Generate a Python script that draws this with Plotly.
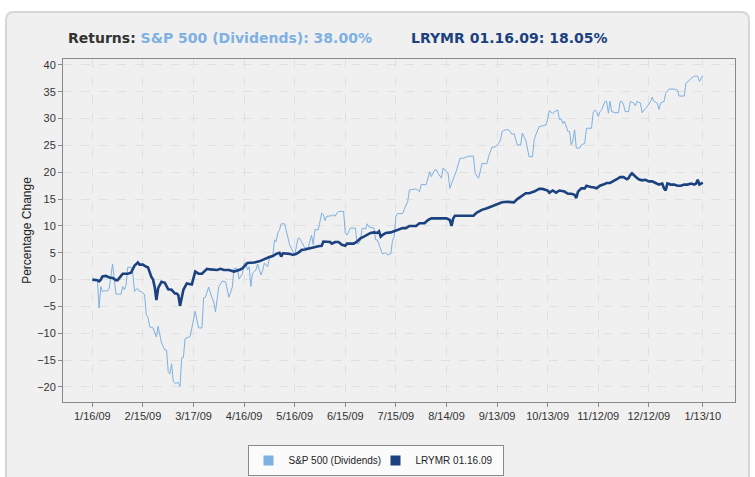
import pandas as pd
import plotly.graph_objects as go

START = pd.Timestamp("2009-01-16")

# S&P 500 (Dividends) - day offset from 1/16/09 and percentage change
sp_day = [0, 3, 4, 5, 6, 7, 9, 10, 12, 13, 14, 17, 18, 19, 20, 21, 23, 24, 25, 26,
          27, 28, 29, 31, 32, 33, 34, 36, 38, 39, 40, 41, 43, 44, 45, 46, 47, 48, 49, 51,
          52, 53, 54, 55, 58, 59, 61, 62, 63, 65, 66, 67, 69, 70, 72, 73, 75, 77, 79, 81,
          83, 84, 86, 87, 89, 90, 91, 92, 93, 94, 95, 97, 98, 99, 100, 101, 102, 104, 105, 107,
          108, 109, 110, 111, 112, 114, 116, 117, 119, 120, 122, 123, 124, 126, 128, 130, 131, 132, 134, 136,
          137, 138, 139, 142, 143, 144, 145, 146, 149, 150, 151, 153, 156, 157, 158, 159, 160, 162, 163, 164,
          167, 168, 169, 171, 172, 174, 175, 177, 178, 179, 180, 181, 184, 186, 187, 188, 192, 194, 195, 198,
          199, 200, 201, 203, 204, 205, 207, 208, 210, 211, 212, 214, 216, 218, 220, 223, 226, 227, 229, 230,
          231, 234, 235, 237, 239, 241, 242, 243, 245, 247, 249, 250, 252, 254, 255, 256, 257, 259, 261, 262,
          263, 265, 267, 269, 270, 271, 273, 274, 276, 277, 278, 279, 280, 282, 283, 284, 285, 286, 287, 289,
          290, 292, 293, 296, 297, 298, 299, 300, 301, 302, 304, 305, 306, 307, 308, 310, 312, 313, 314, 315,
          316, 318, 319, 321, 322, 323, 325, 326, 328, 329, 331, 332, 333, 335, 336, 337, 339, 340, 342, 345,
          347, 348, 351, 352, 354, 355, 357, 359, 360, 362]
sp_val = [0.0, 0.0, -5.3, -1.3, -2.2, -2.1, -2.1, -1.6, 2.9, 0.0, -2.7, -2.7, -1.3, -1.9, -1.0, 2.3, 2.3, 1.2, -2.2, -1.8,
          -1.7, -2.2, -2.2, -2.8, -6.6, -7.0, -8.8, -9.0, -10.7, -8.7, -10.0, -11.8, -13.1, -13.1, -17.1, -17.6, -15.7, -19.0, -19.3, -19.2,
          -19.9, -14.6, -14.5, -11.0, -10.6, -9.0, -5.9, -7.5, -9.0, -9.0, -3.4, -3.3, -1.4, -2.5, -4.2, -6.0, -1.3, -0.3, -0.4, -3.3,
          -1.4, 2.1, 2.1, 0.1, 1.1, 3.1, 3.1, 1.8, 2.4, -1.3, 1.2, 1.8, 2.9, 1.8, 0.9, 1.7, 3.1, 2.4, 4.0, 4.3,
          7.4, 7.1, 8.7, 9.3, 10.4, 10.4, 7.9, 6.5, 5.2, 4.6, 7.7, 7.7, 7.1, 5.9, 5.9, 8.3, 6.5, 9.3, 9.3, 12.4,
          12.1, 11.0, 11.8, 11.9, 12.1, 11.8, 12.4, 12.7, 12.7, 8.7, 8.3, 9.6, 9.6, 6.7, 6.7, 7.4, 9.6, 9.4, 10.4, 9.8,
          9.6, 7.4, 7.4, 5.9, 4.8, 5.0, 4.6, 4.8, 7.3, 8.0, 11.8, 12.3, 12.3, 13.9, 14.5, 16.7, 16.9, 16.4, 17.7, 17.7,
          18.9, 20.1, 19.2, 20.4, 20.5, 19.8, 18.9, 20.8, 20.1, 19.8, 17.0, 18.6, 20.4, 22.6, 22.6, 23.0, 23.0, 19.8, 18.9, 20.1,
          21.6, 21.6, 22.9, 24.7, 24.7, 25.4, 26.0, 27.6, 27.9, 27.9, 27.0, 27.3, 25.1, 25.1, 27.3, 26.6, 26.0, 22.9, 22.9, 26.0,
          27.0, 28.5, 28.6, 28.8, 29.9, 31.5, 30.9, 31.3, 31.6, 29.8, 30.0, 29.1, 29.5, 27.6, 27.6, 25.1, 26.0, 27.9, 24.5, 24.5,
          25.1, 25.4, 28.2, 28.2, 31.1, 31.6, 31.3, 30.4, 31.3, 31.6, 33.2, 33.2, 31.0, 33.2, 31.3, 31.1, 31.1, 33.2, 33.2, 32.6,
          31.3, 31.3, 33.2, 32.9, 32.4, 33.2, 32.9, 31.1, 31.9, 32.2, 33.2, 34.0, 33.2, 32.9, 31.7, 32.9, 33.2, 34.7, 35.5, 35.5,
          35.3, 34.2, 34.2, 36.6, 37.1, 37.5, 37.9, 37.9, 36.9, 38.0]

# LRYMR 01.16.09 - day offset and percentage change
lr_day = [0, 3, 4, 5, 6, 8, 10, 12, 14, 15, 17, 18, 21, 22, 23, 25, 27, 28, 30, 32,
          33, 35, 36, 37, 38, 39, 41, 43, 44, 45, 47, 49, 50, 51, 52, 53, 54, 56, 57, 58,
          59, 61, 63, 65, 68, 70, 72, 74, 76, 78, 81, 84, 87, 89, 92, 95, 96, 99, 101, 103,
          105, 107, 109, 111, 112, 113, 115, 117, 119, 121, 123, 124, 126, 129, 131, 134, 136, 137, 139, 141,
          142, 144, 146, 148, 150, 151, 153, 155, 157, 159, 161, 163, 165, 167, 169, 170, 171, 172, 174, 177,
          179, 181, 184, 186, 188, 192, 194, 197, 199, 201, 206, 210, 212, 213, 214, 215, 218, 223, 226, 228,
          231, 234, 237, 240, 243, 246, 248, 250, 252, 254, 257, 259, 262, 265, 267, 270, 271, 273, 275, 277,
          280, 282, 284, 286, 287, 288, 290, 292, 293, 296, 297, 299, 301, 303, 305, 307, 309, 311, 313, 315,
          317, 318, 319, 320, 322, 324, 326, 328, 330, 332, 334, 336, 338, 339, 340, 341, 343, 345, 347, 349,
          351, 353, 355, 357, 358, 359, 360, 362]
lr_val = [0.0, -0.1, -0.3, 0.0, 0.6, 0.7, 0.4, 0.3, -0.1, -0.1, 0.7, 1.1, 1.1, 1.2, 1.3, 2.6, 3.2, 2.8, 2.8, 2.4,
          2.3, 0.5, 0.0, -1.4, -3.8, -1.6, -0.4, -0.6, -1.3, -1.8, -1.9, -2.6, -2.6, -2.9, -4.9, -3.5, -1.9, -0.7, -0.8, -0.8,
          -0.9, 1.5, 1.1, 1.1, 2.0, 1.9, 1.8, 1.8, 2.0, 1.8, 1.8, 1.5, 1.8, 2.1, 3.1, 3.1, 3.2, 3.4, 3.7, 4.0,
          4.2, 4.4, 4.8, 5.0, 4.3, 4.9, 4.9, 4.8, 4.6, 4.8, 5.2, 5.5, 5.6, 5.9, 6.0, 6.2, 6.3, 7.1, 7.0, 7.0,
          6.7, 7.0, 7.0, 6.5, 6.3, 6.7, 6.7, 6.7, 7.1, 7.7, 8.0, 8.3, 8.7, 8.8, 8.7, 9.0, 8.0, 8.3, 8.7, 8.8,
          9.0, 9.3, 9.6, 9.6, 10.0, 10.0, 10.5, 10.5, 11.1, 11.4, 11.4, 11.4, 11.1, 10.0, 11.4, 11.9, 11.9, 11.9, 11.9, 12.5,
          13.0, 13.3, 13.7, 14.1, 14.4, 14.5, 14.5, 14.4, 15.0, 15.5, 16.1, 16.1, 16.4, 16.9, 16.9, 16.6, 16.2, 16.6, 16.2, 16.6,
          16.4, 16.0, 16.0, 15.8, 15.2, 16.4, 17.0, 17.0, 17.5, 17.2, 17.2, 17.0, 17.5, 17.7, 18.0, 18.0, 18.3, 18.7, 19.1, 19.1,
          18.7, 18.9, 19.5, 19.8, 19.2, 18.7, 18.5, 18.6, 18.3, 18.3, 18.0, 17.7, 17.9, 17.0, 16.6, 17.9, 17.7, 17.7, 17.5, 17.5,
          17.7, 17.7, 17.9, 17.7, 17.9, 18.6, 17.7, 18.05]

tick_dates = ["2009-01-16", "2009-02-15", "2009-03-17", "2009-04-16", "2009-05-16", "2009-06-15",
              "2009-07-15", "2009-08-14", "2009-09-13", "2009-10-13", "2009-11-12", "2009-12-12", "2010-01-13"]
tick_labels = ["1/16/09", "2/15/09", "3/17/09", "4/16/09", "5/16/09", "6/15/09", "7/15/09",
               "8/14/09", "9/13/09", "10/13/09", "11/12/09", "12/12/09", "1/13/10"]

sp_name = "S&P 500 (Dividends)"
lr_name = "LRYMR 01.16.09"
sp_return = 38.00
lr_return = 18.05

SP_COLOR = "#7eb0e2"
LR_COLOR = "#1b427f"

sp_x = START + pd.to_timedelta(sp_day, unit="D")
lr_x = START + pd.to_timedelta(lr_day, unit="D")

fig = go.Figure()
fig.add_trace(go.Scatter(x=sp_x, y=sp_val, mode="lines", line=dict(color=SP_COLOR, width=1),
                         showlegend=False, name=sp_name))
fig.add_trace(go.Scatter(x=lr_x, y=lr_val, mode="lines", line=dict(color=LR_COLOR, width=2.6),
                         showlegend=False, name=lr_name))
# legend swatches (squares)
fig.add_trace(go.Scatter(x=[None], y=[None], mode="markers", name=sp_name,
                         marker=dict(symbol="square", size=10, color=SP_COLOR, line=dict(width=0))))
fig.add_trace(go.Scatter(x=[None], y=[None], mode="markers", name=lr_name,
                         marker=dict(symbol="square", size=10, color=LR_COLOR, line=dict(width=0))))

W, H = 755, 477
L, R, T, B = 63, 20, 59, 75
pw, ph = W - L - R, H - T - B

def px(x):
    return (x - L) / pw

def py(y):
    return (H - B - y) / ph

# rounded panel
x0, x1, y0, y1, r = px(6), px(749), py(12), py(490), 8 / pw
ry = 8 / ph
path = (f"M {x0 + r},{y0} L {x1 - r},{y0} Q {x1},{y0} {x1},{y0 - ry} "
        f"L {x1},{y1} L {x0},{y1} L {x0},{y0 - ry} Q {x0},{y0} {x0 + r},{y0} Z")
fig.add_shape(type="path", path=path, xref="paper", yref="paper", layer="below",
              fillcolor="#f0f0f0", line=dict(color="#d6d6d6", width=2))

fig.add_annotation(xref="paper", yref="paper", x=px(66), y=py(38), xanchor="left", yanchor="middle",
                   showarrow=False,
                   text=f"<b><span style='color:#333333'>Returns:</span> {sp_name}: {sp_return:.2f}%</b>",
                   font=dict(family="DejaVu Sans", size=14, color=SP_COLOR))
fig.add_annotation(xref="paper", yref="paper", x=px(409), y=py(38), xanchor="left", yanchor="middle",
                   showarrow=False,
                   text=f"<b>{lr_name}: {lr_return:.2f}%</b>",
                   font=dict(family="DejaVu Sans", size=14, color=LR_COLOR))

fig.update_layout(
    width=W, height=H,
    margin=dict(l=L, r=R, t=T, b=B, autoexpand=False),
    paper_bgcolor="white",
    plot_bgcolor="#fcfdfe",
    font=dict(family="Liberation Sans", size=11, color="#333333"),
    legend=dict(orientation="h", xref="container", yref="container",
                x=375.5 / W, xanchor="center", y=1 - 445 / H, yanchor="top",
                bgcolor="#fbfbfb", bordercolor="#8a8a8a", borderwidth=1,
                font=dict(family="Liberation Sans", size=10, color="#222222"),
                itemwidth=30, tracegroupgap=0, entrywidth=82, entrywidthmode="pixels"),
    xaxis=dict(type="date", range=["2008-12-29 14:24", "2010-02-01 02:24"], automargin=False,
               tickvals=tick_dates, ticktext=tick_labels, tickangle=0,
               showgrid=True, gridcolor="#e0e0e0", griddash="dash", gridwidth=1,
               showline=True, mirror=True, linecolor="#888888", linewidth=1,
               ticks="outside", ticklen=4, tickcolor="#888888", zeroline=False,
               tickfont=dict(size=11, color="#333333")),
    yaxis=dict(range=[-22.8, 41.1], dtick=5, tick0=0, automargin=False,
               showgrid=True, gridcolor="#e0e0e0", griddash="dash", gridwidth=1,
               showline=True, mirror=True, linecolor="#888888", linewidth=1,
               ticks="outside", ticklen=4, tickcolor="#888888", zeroline=False,
               tickfont=dict(size=11, color="#333333"),
               title=dict(text="Percentage Change", font=dict(size=12, color="#222222"), standoff=2)),
)

fig.write_html("out.html")
